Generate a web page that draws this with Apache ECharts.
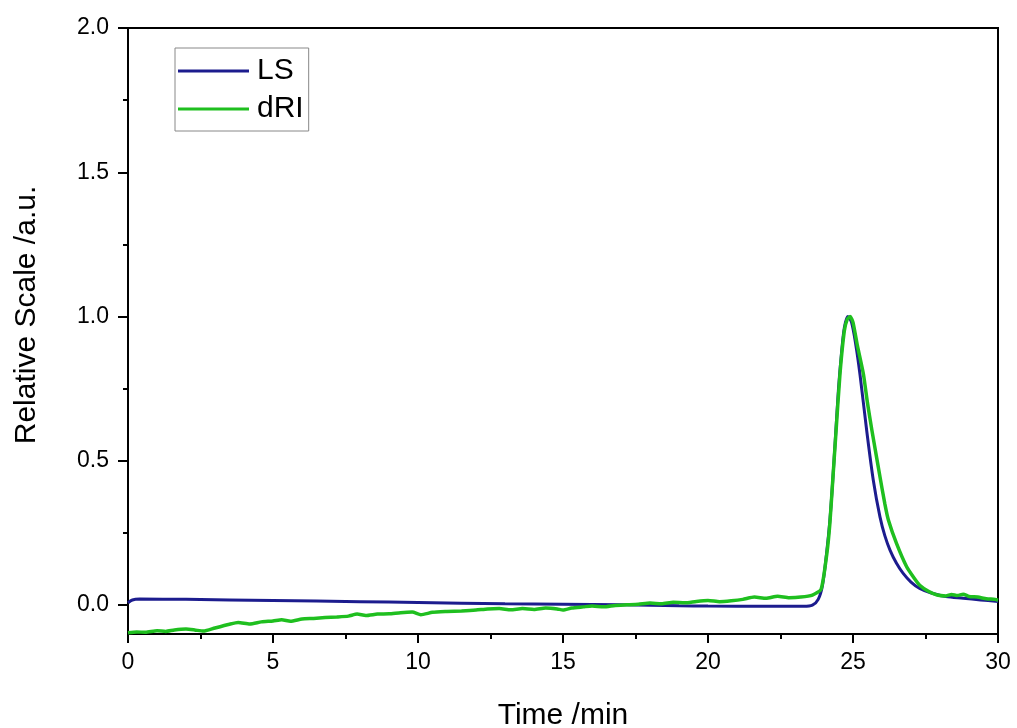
<!DOCTYPE html>
<html>
<head>
<meta charset="utf-8">
<script src="https://cdn.jsdelivr.net/npm/echarts@6/dist/echarts.min.js"></script>
<style>html,body{margin:0;padding:0;background:#fff;}#c{width:1017px;height:728px;}</style>
</head>
<body>
<div id="c"></div>
<script>
// ---- data ----
const xTicks = [0, 5, 10, 15, 20, 25, 30];
const yMajorTicks = [0, 0.5, 1.0, 1.5, 2.0];
const yMinorTicks = [0.25, 0.75, 1.25, 1.75];

const lsTime  = [0, 0.15, 0.4, 2, 5, 8, 10, 13, 15, 17, 19, 20, 22, 23.3, 23.6, 23.8, 23.95, 24.1, 24.2, 24.3, 24.4, 24.5, 24.6, 24.7, 24.82, 24.95, 25.1, 25.24, 25.47, 25.7, 25.93, 26.1, 26.28, 26.5, 26.73, 27.0, 27.3, 27.7, 28.2, 28.8, 29.4, 30.0];
const lsValue = [0.008, 0.018, 0.021, 0.020, 0.016, 0.012, 0.009, 0.005, 0.003, 0.001, -0.002, -0.003, -0.004, -0.004, 0.000, 0.02, 0.07, 0.19, 0.29, 0.43, 0.59, 0.75, 0.87, 0.96, 1.0, 0.98, 0.90, 0.80, 0.607, 0.433, 0.306, 0.24, 0.19, 0.145, 0.11, 0.08, 0.058, 0.042, 0.030, 0.024, 0.018, 0.013];

const driTime  = [0, 0.3, 0.6, 1.0, 1.3, 1.6, 2.0, 2.3, 2.6, 3.0, 3.5, 3.8, 4.2, 4.6, 5.0, 5.3, 5.6, 6.0, 6.4, 6.8, 7.2, 7.6, 7.9, 8.2, 8.6, 9.0, 9.4, 9.8, 10.1, 10.5, 11.0, 11.5, 12.0, 12.4, 12.8, 13.2, 13.6, 14.0, 14.4, 14.8, 15.0, 15.3, 15.7, 16.0, 16.4, 16.8, 17.2, 17.6, 18.0, 18.4, 18.8, 19.2, 19.6, 20.0, 20.4, 20.8, 21.2, 21.6, 22.0, 22.4, 22.8, 23.2, 23.6, 23.9, 24.1, 24.2, 24.3, 24.4, 24.55, 24.7, 24.8, 24.9, 25.0, 25.15, 25.36, 25.5, 25.65, 25.8, 25.93, 26.1, 26.22, 26.5, 26.85, 27.1, 27.3, 27.6, 27.9, 28.2, 28.4, 28.6, 28.8, 29.0, 29.3, 29.6, 29.9, 30.0];
const driValue = [-0.096, -0.093, -0.094, -0.089, -0.091, -0.086, -0.083, -0.086, -0.090, -0.079, -0.066, -0.060, -0.065, -0.058, -0.055, -0.051, -0.056, -0.048, -0.046, -0.043, -0.041, -0.038, -0.031, -0.036, -0.031, -0.030, -0.026, -0.024, -0.033, -0.025, -0.022, -0.020, -0.017, -0.013, -0.012, -0.016, -0.012, -0.015, -0.010, -0.013, -0.017, -0.010, -0.006, -0.003, -0.006, -0.001, 0.001, 0.003, 0.007, 0.005, 0.010, 0.008, 0.013, 0.016, 0.012, 0.015, 0.020, 0.028, 0.024, 0.031, 0.026, 0.028, 0.035, 0.055, 0.18, 0.28, 0.43, 0.58, 0.80, 0.95, 0.99, 1.0, 0.98, 0.90, 0.80, 0.70, 0.607, 0.52, 0.445, 0.35, 0.295, 0.214, 0.133, 0.095, 0.069, 0.048, 0.035, 0.032, 0.037, 0.033, 0.038, 0.030, 0.028, 0.022, 0.020, 0.017];

const seriesNames = ['LS', 'dRI'];
const seriesColors = ['#1c1c8e', '#1fbf1f'];

function pairs(t, v) { return t.map((x, i) => [x, v[i]]); }

const FONT = 'Liberation Sans, Arial, sans-serif';
const chart = echarts.init(document.getElementById('c'));
chart.setOption({
  backgroundColor: '#ffffff',
  animation: false,
  grid: { left: 128, right: 19, top: 28, bottom: 94, containLabel: false, outerBoundsMode: 'none', show: true, borderColor: '#000', borderWidth: 2, backgroundColor: 'transparent' },
  legend: {
    orient: 'vertical', left: 175, top: 48,
    icon: 'rect', itemWidth: 71, itemHeight: 3, itemGap: 8,
    padding: [8, 5, 7, 3],
    borderColor: '#888', borderWidth: 1,
    textStyle: { fontFamily: FONT, fontSize: 30, color: '#000', padding: [0, 0, 0, 3] },
    data: seriesNames
  },
  xAxis: {
    type: 'value', min: xTicks[0], max: xTicks[xTicks.length - 1], interval: 5,
    name: 'Time /min', nameLocation: 'middle', nameGap: 67,
    nameTextStyle: { fontFamily: FONT, fontSize: 30, color: '#000' },
    axisLine: { show: true, onZero: false, lineStyle: { color: '#000', width: 2 } },
    axisTick: { show: true, inside: false, length: 9, lineStyle: { color: '#000', width: 2 } },
    minorTick: { show: true, splitNumber: 2, length: 5, lineStyle: { color: '#000', width: 2 } },
    axisLabel: { fontFamily: FONT, fontSize: 23, color: '#000', margin: 17 },
    splitLine: { show: false }
  },
  yAxis: [
    {
      type: 'value', min: -0.1, max: 2.0, position: 'left',
      name: 'Relative Scale /a.u.', nameLocation: 'middle', nameGap: 86,
      nameTextStyle: { fontFamily: FONT, fontSize: 30, color: '#000', padding: [0, 0, 0, 32] },
      axisLine: { show: true, onZero: false, lineStyle: { color: '#000', width: 2 } },
      axisTick: { show: true, inside: false, length: 10, customValues: yMajorTicks, lineStyle: { color: '#000', width: 2 } },
      axisLabel: { fontFamily: FONT, fontSize: 23, color: '#000', margin: 19, customValues: yMajorTicks, formatter: v => v.toFixed(1) },
      splitLine: { show: false }
    },
    {
      type: 'value', min: -0.1, max: 2.0, position: 'left',
      axisLine: { show: false },
      axisTick: { show: true, inside: false, length: 5, customValues: yMinorTicks, lineStyle: { color: '#000', width: 2 } },
      axisLabel: { show: false },
      splitLine: { show: false }
    }
  ],
  series: [
    {
      name: seriesNames[0], type: 'line', yAxisIndex: 0, data: pairs(lsTime, lsValue),
      showSymbol: false, smooth: 0.3, lineStyle: { color: seriesColors[0], width: 3 }, itemStyle: { color: seriesColors[0] }, z: 2
    },
    {
      name: seriesNames[1], type: 'line', yAxisIndex: 0, data: pairs(driTime, driValue),
      showSymbol: false, smooth: 0.2, lineStyle: { color: seriesColors[1], width: 3.5 }, itemStyle: { color: seriesColors[1] }, z: 3
    }
  ]
});
</script>
</body>
</html>
